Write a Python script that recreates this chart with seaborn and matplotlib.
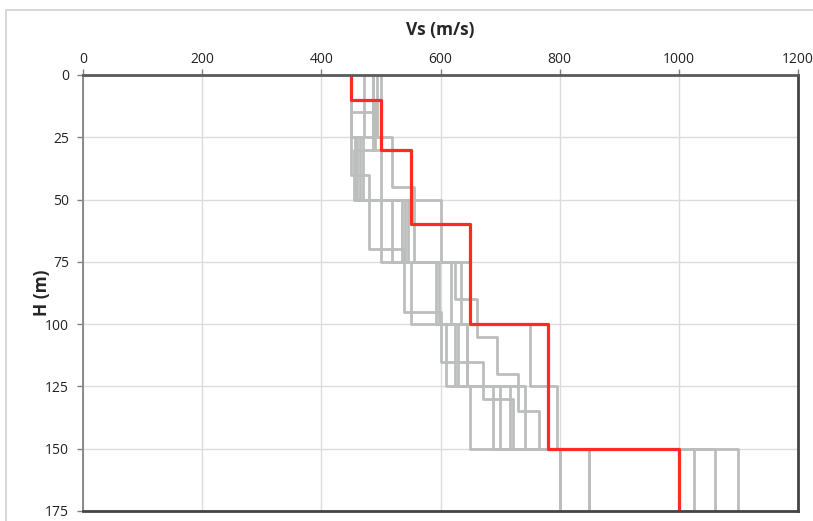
import matplotlib
matplotlib.use("Agg")
import matplotlib.pyplot as plt
from matplotlib.patches import Rectangle
import seaborn as sns
import pandas as pd

# Reference (design) shear-wave velocity profile: layer boundaries (m) and Vs (m/s)
ref_bounds = [0, 10, 30, 60, 100, 150, 175]
ref_vs = [450, 500, 550, 650, 780, 1000]

# Randomised profiles: layer boundaries (m) and Vs (m/s) of each layer
p1_bounds = [0, 15, 40, 70, 95, 115, 130, 150, 175]
p1_vs = [487, 450, 480, 539, 600, 672, 722, 850]

p2_bounds = [0, 25, 50, 75, 100, 125, 150, 175]
p2_vs = [471, 460, 519, 618, 610, 700, 800]

p3_bounds = [0, 25, 45, 75, 90, 105, 120, 135, 150, 175]
p3_vs = [494, 519, 555, 624, 661, 694, 730, 766, 1060]

p4_bounds = [0, 10, 30, 50, 75, 100, 125, 150, 175]
p4_vs = [500, 490, 455, 500, 593, 645, 741, 1025]

p5_bounds = [0, 25, 50, 75, 100, 125, 150, 175]
p5_vs = [450, 465, 540, 635, 624, 716, 1100]

p6_bounds = [0, 30, 50, 75, 100, 125, 150, 175]
p6_vs = [487, 500, 600, 650, 750, 795, 800]

p7_bounds = [0, 25, 50, 75, 100, 125, 150, 175]
p7_vs = [450, 457, 535, 550, 630, 688, 850]

p8_bounds = [0, 25, 50, 75, 100, 125, 150, 175]
p8_vs = [487, 470, 545, 598, 645, 650, 800]

profiles = {
    "P1": (p1_bounds, p1_vs), "P2": (p2_bounds, p2_vs),
    "P3": (p3_bounds, p3_vs), "P4": (p4_bounds, p4_vs),
    "P5": (p5_bounds, p5_vs), "P6": (p6_bounds, p6_vs),
    "P7": (p7_bounds, p7_vs), "P8": (p8_bounds, p8_vs),
}

x_ticks = [0, 200, 400, 600, 800, 1000, 1200]
y_ticks = [0, 25, 50, 75, 100, 125, 150, 175]


def step_frame(name, bounds, vs):
    rows = []
    for i, v in enumerate(vs):
        rows.append((name, v, bounds[i]))
        rows.append((name, v, bounds[i + 1]))
    return pd.DataFrame(rows, columns=["profile", "Vs", "H"])


gray_df = pd.concat([step_frame(k, b, v) for k, (b, v) in profiles.items()],
                    ignore_index=True)
ref_df = step_frame("ref", ref_bounds, ref_vs)

sns.set_theme(style="white")
plt.rcParams["font.family"] = ["Open Sans", "DejaVu Sans"]

fig = plt.figure(figsize=(8.13, 5.21), dpi=100)
ax = fig.add_axes([83 / 813, 1 - 511 / 521, 715 / 813, 436 / 521])

# light outer frame of the chart area
fig.patches.append(Rectangle((6 / 813, -0.05), 1.2, 1 - 10 / 521 + 0.05,
                             transform=fig.transFigure, fill=False,
                             edgecolor="#d0d0d0", linewidth=1.2, zorder=0))

sns.lineplot(data=gray_df, x="Vs", y="H", units="profile", estimator=None,
             sort=False, color="#bcbebe", linewidth=2.0, ax=ax, legend=False)
sns.lineplot(data=ref_df, x="Vs", y="H", estimator=None, sort=False,
             color="#ff2a22", linewidth=2.3, ax=ax, legend=False)

ax.set_xlim(0, 1200)
ax.set_ylim(175, 0)
ax.set_xticks(x_ticks)
ax.set_yticks(y_ticks)
ax.xaxis.tick_top()
ax.xaxis.set_label_position("top")
ax.grid(True, color="#dcdcdc", linewidth=1.0)
ax.set_axisbelow(True)

ax.tick_params(axis="both", which="major", length=4, width=1, color="#808080",
               labelsize=10, labelcolor="#222222", direction="out")
ax.tick_params(axis="x", top=True, bottom=False, pad=2)
ax.tick_params(axis="y", left=True, pad=6)

ax.spines["top"].set_color("#5a5a5a")
ax.spines["top"].set_linewidth(2.0)
ax.spines["left"].set_color("#8a8a8a")
ax.spines["left"].set_linewidth(1.4)
ax.spines["right"].set_color("#444444")
ax.spines["right"].set_linewidth(2.0)
ax.spines["bottom"].set_color("#444444")
ax.spines["bottom"].set_linewidth(2.0)

ax.set_xlabel("Vs (m/s)", fontsize=12.5, fontweight="bold", labelpad=12)
ax.set_ylabel("H (m)", fontsize=12.5, fontweight="bold", labelpad=-4)

fig.savefig("out.png", dpi=100)
